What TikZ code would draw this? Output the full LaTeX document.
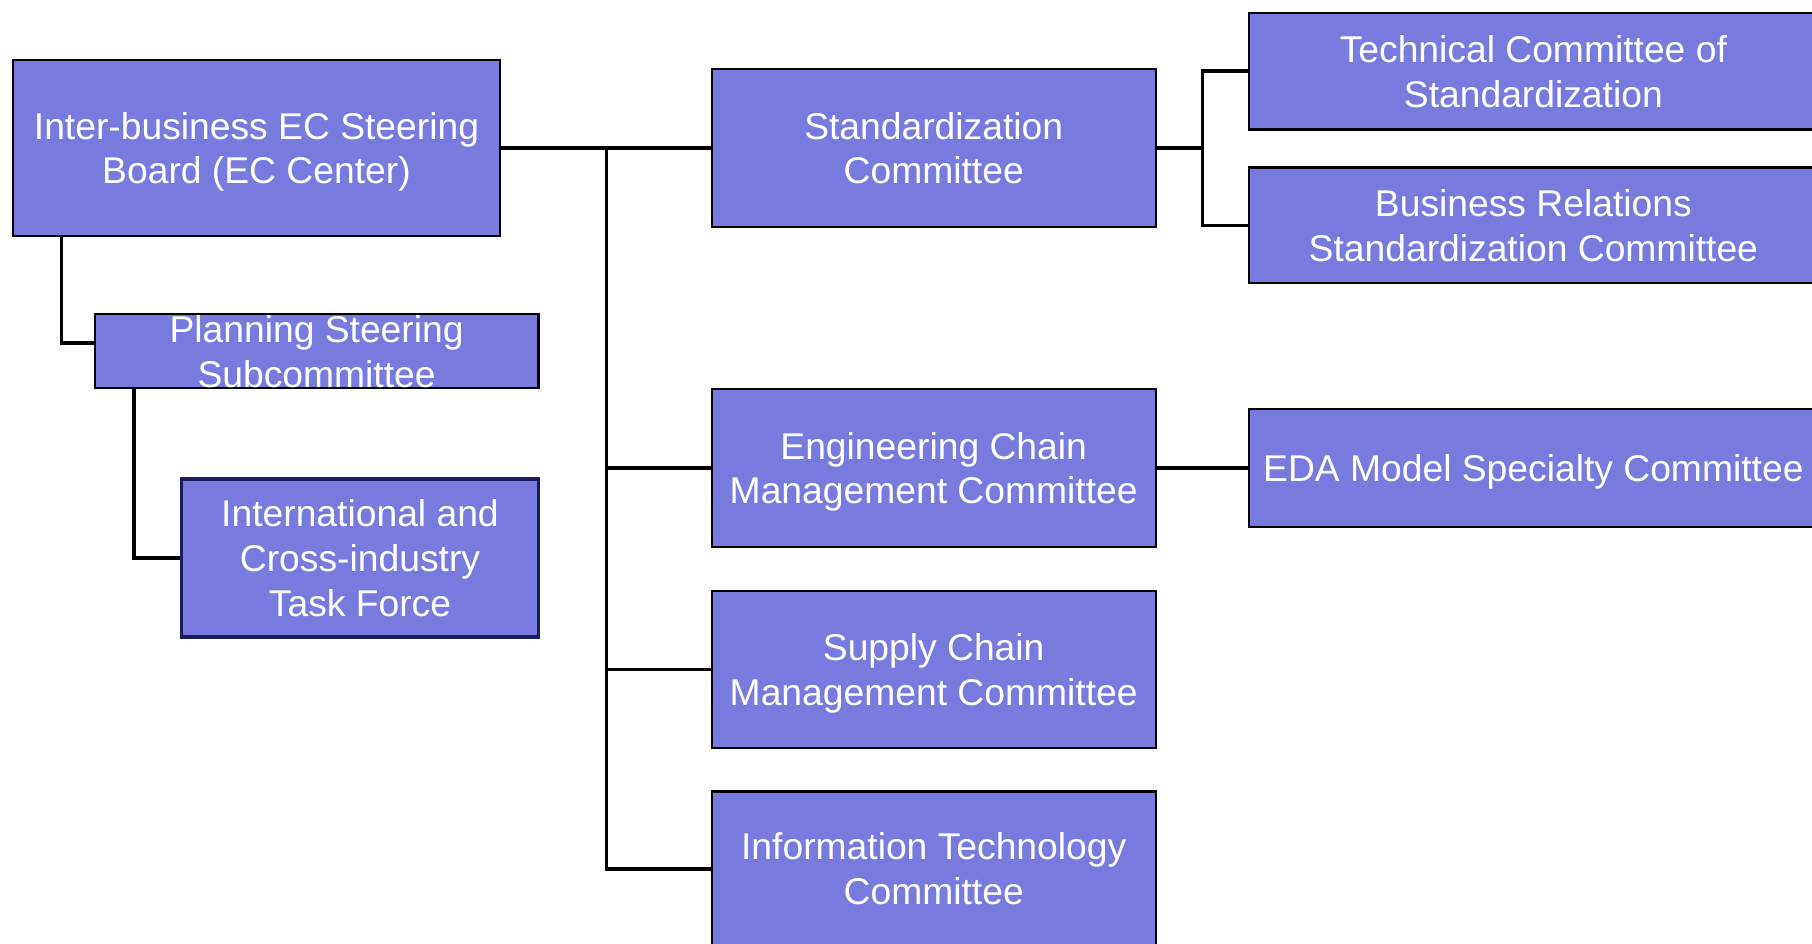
\documentclass[tikz,border=0pt]{standalone}
\usepackage{fontspec}
\setmainfont{Liberation Sans}
\usepackage{xcolor}
\usetikzlibrary{calc,positioning}
\definecolor{unitfill}{RGB}{121,122,222}
\definecolor{taskline}{RGB}{28,28,100}
\tikzset{
	UnitBox/.style={draw=black, line width=0.6pt, fill=unitfill, text=white, align=center, inner sep=0pt, text depth=0pt,
			font=\fontsize{10.6}{12.8}\selectfont, minimum width=4.437cm, minimum height=1.575cm},
	WideBox/.style={UnitBox, anchor=west, minimum width=5.686cm, minimum height=1.167cm},
	Link/.style={draw=black, line width=1pt}
}

\begin{document}
\begin{tikzpicture}
		\useasboundingbox (0,0) rectangle (18.12,9.43);
		% left side
		\node[UnitBox, minimum width=4.877cm, minimum height=1.757cm] (board) at (2.565,7.95) {Inter-business EC Steering\\Board (EC Center)};
		\node[UnitBox, minimum height=0.74cm, inner ysep=-1pt] (plan) at (3.166,5.917) {Planning Steering\\Subcommittee};
		\node[UnitBox, draw=taskline, line width=1.1pt, minimum width=3.571cm] (task) at (3.600,3.849) {International and\\Cross-industry\\Task Force};
		% committees
		\node[UnitBox, minimum height=1.583cm] (stdc) at (9.337,7.95) {Standardization\\Committee};
		\node[UnitBox] (engc) at (9.337,4.75) {Engineering Chain\\Management Committee};
		\node[UnitBox, below=0.42cm of engc] (supc) {Supply Chain\\Management Committee};
		\node[UnitBox, minimum height=1.549cm, below=0.41cm of supc] (itc) {Information Technology\\Committee};
		% right side
		\node[WideBox] (tech) at (12.48,8.719) {Technical Committee of\\Standardization};
		\node[WideBox, minimum height=1.156cm] (bizr) at (12.48,7.177) {Business Relations\\Standardization Committee};
		\node[WideBox, minimum height=1.179cm] (eda) at (12.48,4.75) {EDA Model Specialty Committee};
		% connectors
		\coordinate (hub) at ($(board.east)+(1.052,0)$);
		\coordinate (stdhub) at ($(stdc.east)!0.5!(stdc.east -| tech.west)$);
		\draw[Link] (board.east) -- (stdc.west);
		\draw[Link] (hub) |- (engc.west);
		\draw[Link] (hub) |- (supc.west);
		\draw[Link] (hub) |- (itc.west);
		\draw[Link] ($(board.south west)+(0.497,0)$) |- ($(plan.west)+(0,0.081)$);
		\draw[Link] ($(plan.south west)+(0.404,0)$) |- (task.west);
		\draw[Link] (stdc.east) -- (stdhub);
		\draw[Link] (stdhub) |- (tech.west);
		\draw[Link] (stdhub) |- (bizr.west);
		\draw[Link] (engc.east) -- (eda.west);
	\end{tikzpicture}
\end{document}
